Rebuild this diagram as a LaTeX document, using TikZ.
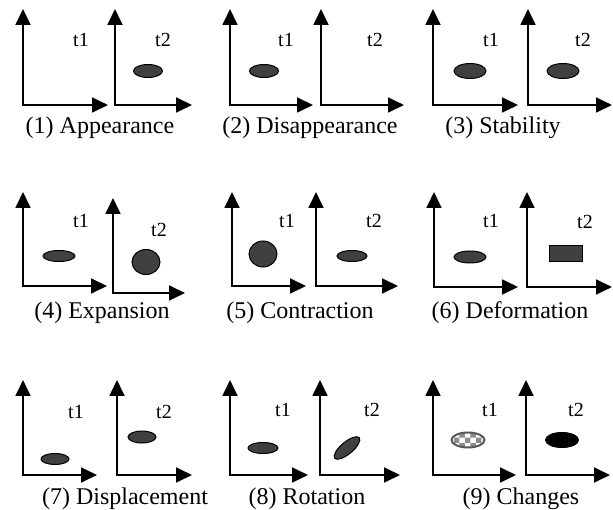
\documentclass[tikz,border=0pt]{standalone}
\usepackage{fontspec}
\setmainfont{Liberation Serif}
\usetikzlibrary{arrows.meta,patterns}
\newcommand{\axpair}[4]{\draw[axes] (#1,#2) -- (#1,#3) -- (#4,#3);}
\begin{document}
\begin{tikzpicture}[x=1pt,y=-1pt,
  axes/.style={line width=1.8pt,{Triangle[width=15pt,length=16pt]}-{Triangle[width=15pt,length=16pt]}},
  tlabel/.style={anchor=base,inner sep=0pt,font=\fontsize{20}{24}\selectfont},
  caplabel/.style={anchor=base,inner sep=0pt,font=\fontsize{24}{28}\selectfont},
  blob/.style={draw=black,line width=1pt,fill=black!75}]
\useasboundingbox (0,0) rectangle (613,510);
% ---------- row 1 ----------
\axpair{23}{9}{105}{108}
\axpair{115}{9}{105}{192}
\axpair{230}{9}{105}{313}
\axpair{321}{9}{105}{404}
\axpair{433}{9}{105}{518}
\axpair{528}{9}{105}{612}
\node[tlabel] (p1a) at (81,47) {t1};
\node[tlabel] (p1b) at (163,47) {t2};
\node[tlabel] (p2a) at (286,47) {t1};
\node[tlabel] (p2b) at (375,47) {t2};
\node[tlabel] (p3a) at (491,47) {t1};
\node[tlabel] (p3b) at (583,47) {t2};
\draw[blob] (148,71) ellipse [x radius=14.5pt,y radius=6.5pt];
\draw[blob] (264,71) ellipse [x radius=14.5pt,y radius=6.5pt];
\draw[blob] (470,71) ellipse [x radius=16pt,y radius=7.5pt];
\draw[blob] (563,71) ellipse [x radius=16pt,y radius=7.5pt];
\node[caplabel] (c1) at (100,134) {(1) Appearance};
\node[caplabel] (c2) at (310,134) {(2) Disappearance};
\node[caplabel] (c3) at (503,134) {(3) Stability};
% ---------- row 2 ----------
\axpair{23}{192}{286}{107}
\axpair{113}{198}{293}{185}
\axpair{232}{192}{286}{306}
\axpair{316}{192}{286}{398}
\axpair{434}{192}{287}{518}
\axpair{527}{192}{287}{612}
\node[tlabel] (p4a) at (81,228) {t1};
\node[tlabel] (p4b) at (159,237) {t2};
\node[tlabel] (p5a) at (287,228) {t1};
\node[tlabel] (p5b) at (374,228) {t2};
\node[tlabel] (p6a) at (491,228) {t1};
\node[tlabel] (p6b) at (585,229) {t2};
\draw[blob] (59,256) ellipse [x radius=16pt,y radius=5.5pt];
\draw[blob] (146,262) ellipse [x radius=14pt,y radius=12.5pt];
\draw[blob] (263,254) ellipse [x radius=14pt,y radius=13pt];
\draw[blob] (352,256) ellipse [x radius=15pt,y radius=5.5pt];
\draw[blob] (470,257) ellipse [x radius=16pt,y radius=6pt];
\draw[blob] (549,246) rectangle (582,262);
\node[caplabel] (c4) at (102,319) {(4) Expansion};
\node[caplabel] (c5) at (300,319) {(5) Contraction};
\node[caplabel] (c6) at (510,319) {(6) Deformation};
% ---------- row 3 ----------
\axpair{23}{380}{475}{97}
\axpair{117}{380}{475}{192}
\axpair{230}{380}{475}{308}
\axpair{320}{380}{475}{400}
\axpair{433}{380}{475}{516}
\axpair{526}{380}{475}{610}
\node[tlabel] (p7a) at (76,418) {t1};
\node[tlabel] (p7b) at (164,418) {t2};
\node[tlabel] (p8a) at (283,417) {t1};
\node[tlabel] (p8b) at (372,417) {t2};
\node[tlabel] (p9a) at (490,417) {t1};
\node[tlabel] (p9b) at (576,417) {t2};
\draw[blob] (55,459) ellipse [x radius=14pt,y radius=5.5pt];
\draw[blob] (142,437) ellipse [x radius=14pt,y radius=6pt];
\draw[blob] (263,448) ellipse [x radius=15pt,y radius=5.5pt];
\draw[blob,rotate around={40:(347,448)}] (347,448) ellipse [x radius=16pt,y radius=6pt];
\fill[white] (468,440) ellipse [x radius=16.5pt,y radius=7.5pt];
\fill[pattern=checkerboard,pattern color=black!45] (468,440) ellipse [x radius=16.5pt,y radius=7.5pt];
\draw[black!65,line width=2pt] (468,440) ellipse [x radius=16.5pt,y radius=7.5pt];
\draw[draw=black,line width=1pt,fill=black] (562,440) ellipse [x radius=16.5pt,y radius=7.5pt];
\node[caplabel] (c7) at (125,504) {(7) Displacement};
\node[caplabel] (c8) at (307,504) {(8) Rotation};
\node[caplabel] (c9) at (521,504) {(9) Changes};
\end{tikzpicture}
\end{document}
